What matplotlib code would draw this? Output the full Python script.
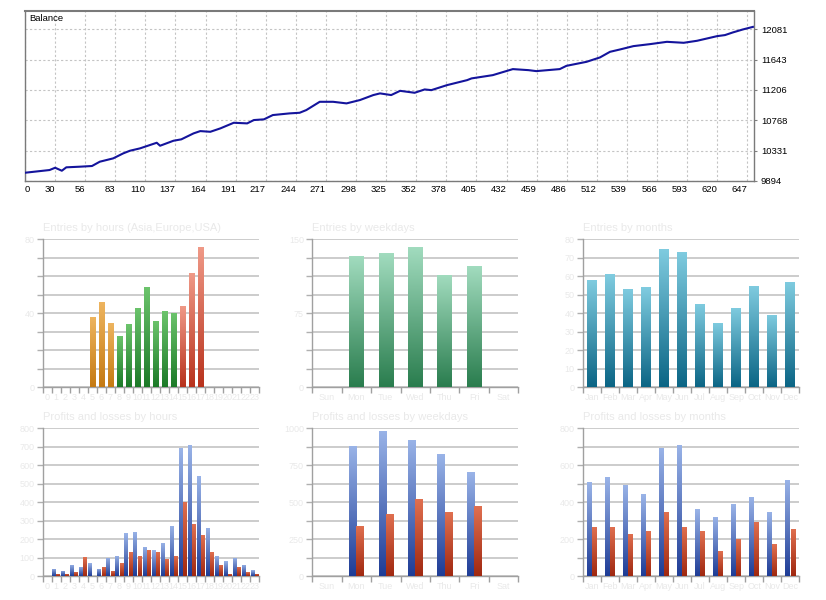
import numpy as np
import matplotlib
matplotlib.use('Agg')
import matplotlib.pyplot as plt
from matplotlib.colors import LinearSegmentedColormap

# ---------------- data ----------------
trade_idx = [0, 22, 27, 33, 37, 49, 60, 67, 79, 88, 94, 103, 118, 121, 133, 140, 151, 157, 166,
             175, 187, 199, 205, 214, 222, 237, 246, 252, 264, 276, 288, 300, 312, 318, 328,
             336, 349, 358, 364, 378, 396, 400, 419, 437, 451, 458, 479, 485, 503, 515, 524,
             533, 545, 560, 575, 590, 602, 620, 627, 634, 643, 652]
balance = [10013, 10052, 10085, 10042, 10091, 10100, 10110, 10172, 10220, 10292, 10330, 10364,
           10445, 10402, 10474, 10494, 10580, 10613, 10603, 10652, 10733, 10724, 10772, 10782,
           10844, 10868, 10877, 10916, 11035, 11035, 11012, 11060, 11132, 11156, 11132,
           11193, 11165, 11213, 11203, 11275, 11347, 11372, 11419, 11506, 11491, 11477, 11506,
           11553, 11611, 11674, 11755, 11789, 11837, 11866, 11899, 11885, 11914, 11981, 11996,
           12034, 12077, 12114]
bal_xtick_labels = ['0', '30', '56', '83', '110', '137', '164', '191', '217', '244', '271', '298',
                    '325', '352', '378', '405', '432', '459', '486', '512', '539', '566', '593',
                    '620', '647']
bal_yticks = [9894, 10331, 10768, 11206, 11643, 12081]

hour_labels = ['0', '1', '2', '3', '4', '5', '6', '7', '8', '9', '10', '11', '12', '13', '14',
               '15', '16', '17', '18', '19', '20', '21', '22', '23']
entries_by_hour = [0, 0, 0, 0, 0, 38, 46, 35, 28, 34, 43, 54, 36, 41, 40, 44, 62, 76, 0, 0, 0, 0, 0, 0]
weekday_labels = ['Sun', 'Mon', 'Tue', 'Wed', 'Thu', 'Fri', 'Sat']
entries_by_weekday = [0, 133, 136, 142, 114, 123, 0]
month_labels = ['Jan', 'Feb', 'Mar', 'Apr', 'May', 'Jun', 'Jul', 'Aug', 'Sep', 'Oct', 'Nov', 'Dec']
entries_by_month = [58, 61, 53, 54, 75, 73, 45, 35, 43, 55, 39, 57]

profit_by_hour = [0, 40, 29, 61, 51, 69, 40, 99, 110, 231, 240, 159, 139, 181, 271, 692, 712,
                  540, 260, 110, 80, 99, 61, 31]
loss_by_hour = [0, 13, 13, 22, 101, 0, 51, 29, 70, 128, 108, 139, 128, 90, 110, 401, 280, 220,
                128, 60, 11, 51, 20, 11]
profit_by_weekday = [0, 883, 982, 921, 824, 702, 0]
loss_by_weekday = [0, 341, 422, 521, 431, 472, 0]
profit_by_month = [507, 535, 495, 442, 695, 710, 361, 320, 388, 428, 347, 520]
loss_by_month = [267, 267, 228, 242, 347, 267, 242, 134, 201, 294, 173, 255]

# ---------------- figure ----------------
W, H = 826, 600
fig = plt.figure(figsize=(W / 100, H / 100), dpi=100)
plt.rcParams['font.family'] = ['Liberation Sans', 'DejaVu Sans']


def px_axes(l, t, r, b):
    return fig.add_axes([l / W, 1 - b / H, (r - l) / W, (b - t) / H])


# ---- balance chart ----
ax = px_axes(25, 11, 754, 181)
ax.plot(trade_idx, balance, color='#14149c', lw=1.5, zorder=3)
ax.set_xlim(0, 653)
ax.set_ylim(9894, 12343)
xt = [k * 647 / 24 for k in range(25)]
ax.set_xticks(xt)
ax.set_xticklabels(bal_xtick_labels, fontsize=6.8)
for i, lab in enumerate(ax.get_xticklabels()):
    lab.set_ha('left' if i == 0 else 'right')
ax.set_yticks(bal_yticks)
ax.set_yticklabels([str(v) for v in bal_yticks], fontsize=6.8)
ax.yaxis.tick_right()
ax.tick_params(axis='x', length=0, pad=3)
ax.tick_params(axis='y', length=2, pad=3, color='#808080')
ax.grid(True, color='#c4c4c4', linestyle=(0, (2, 2)), lw=0.8)
for s in ax.spines.values():
    s.set_color('#7a7a7a')
    s.set_linewidth(1.0)
ax.spines['top'].set_linewidth(1.5)
ax.text(0.006, 0.982, 'Balance', transform=ax.transAxes, fontsize=6.8, va='top', ha='left')

# ---- small panels ----
FAINT = '#e9e9e9'


def gradient_bars(a, xs, hs, width, c_top, c_bot, zorder=3):
    cmap = LinearSegmentedColormap.from_list('g', [c_bot, c_top])
    grad = np.linspace(0, 1, 128).reshape(-1, 1)
    bars = a.bar(xs, hs, width=width, color=c_bot, edgecolor='none', zorder=zorder)
    for rect, h in zip(bars, hs):
        if h <= 0:
            continue
        x0 = rect.get_x()
        im = a.imshow(grad, extent=[x0, x0 + rect.get_width(), 0, h], origin='lower',
                      aspect='auto', cmap=cmap, interpolation='bilinear', zorder=zorder + 0.1)
        im.set_clip_path(rect)


def setup_panel(a, title, labels, ymax, ystep, shown):
    n = len(labels)
    a.set_xlim(-0.5, n - 0.5)
    a.set_ylim(0, ymax)
    a.set_aspect('auto')
    a.set_xticks([k - 0.5 for k in range(n + 1)])
    a.set_xticklabels([])
    a.set_xticks(list(range(n)), minor=True)
    a.set_xticklabels(labels, minor=True, fontsize=6.5, color=FAINT)
    a.tick_params(axis='x', which='major', length=4, color='#a0a0a0', width=1)
    a.tick_params(axis='x', which='minor', length=0, pad=4)
    yt = list(np.arange(0, ymax + ystep / 2, ystep))
    a.set_yticks(yt)
    a.set_yticklabels([f'{int(v)}' if int(v) in shown else '' for v in yt], fontsize=6.5, color=FAINT)
    a.tick_params(axis='y', length=4, color='#b0b0b0', width=1, pad=2)
    a.grid(True, axis='y', color='#c4c4c4', lw=1.2, zorder=0)
    a.set_axisbelow(True)
    for s in ['top', 'right']:
        a.spines[s].set_visible(False)
    for s in ['left', 'bottom']:
        a.spines[s].set_color('#a0a0a0')
        a.spines[s].set_linewidth(1.0)
    a.text(0.0, 1.04, title, transform=a.transAxes, fontsize=8, color=FAINT, ha='left', va='bottom')


row1 = (239.3, 387.3)
row2 = (428.3, 576.0)
cols = [(42.7, 259.3), (312.3, 518.3), (582.7, 799.3)]

# Entries by hours
a1 = px_axes(cols[0][0], row1[0], cols[0][1], row1[1])
hx = np.arange(len(hour_labels))
for i, v in enumerate(entries_by_hour):
    if v <= 0:
        continue
    if i < 8:
        ct, cb = '#eeb560', '#c57a12'
    elif i < 15:
        ct, cb = '#6cc46c', '#1c7a28'
    else:
        ct, cb = '#f09a88', '#b8321c'
    gradient_bars(a1, [hx[i]], [v], 0.6, ct, cb)
setup_panel(a1, 'Entries by hours (Asia,Europe,USA)', hour_labels, 80, 10, [0, 40, 80])

# Entries by weekdays
a2 = px_axes(cols[1][0], row1[0], cols[1][1], row1[1])
gradient_bars(a2, np.arange(len(weekday_labels)), entries_by_weekday, 0.5, '#a2dcbf', '#2a7d4e')
setup_panel(a2, 'Entries by weekdays', weekday_labels, 150, 18.75, [0, 75, 150])

# Entries by months
a3 = px_axes(cols[2][0], row1[0], cols[2][1], row1[1])
gradient_bars(a3, np.arange(len(month_labels)), entries_by_month, 0.55, '#80cce0', '#0b6585')
setup_panel(a3, 'Entries by months', month_labels, 80, 10, list(range(0, 90, 10)))

BLUE_T, BLUE_B = '#9ab4e8', '#1e3c96'
RED_T, RED_B = '#e07050', '#a02810'

# Profits and losses by hours
a4 = px_axes(cols[0][0], row2[0], cols[0][1], row2[1])
gradient_bars(a4, hx - 0.23, profit_by_hour, 0.42, BLUE_T, BLUE_B)
gradient_bars(a4, hx + 0.23, loss_by_hour, 0.42, RED_T, RED_B)
setup_panel(a4, 'Profits and losses by hours', hour_labels, 800, 100, list(range(0, 900, 100)))

# Profits and losses by weekdays
a5 = px_axes(cols[1][0], row2[0], cols[1][1], row2[1])
wx = np.arange(len(weekday_labels))
gradient_bars(a5, wx - 0.125, profit_by_weekday, 0.25, BLUE_T, BLUE_B)
gradient_bars(a5, wx + 0.125, loss_by_weekday, 0.25, RED_T, RED_B)
setup_panel(a5, 'Profits and losses by weekdays', weekday_labels, 1000, 125, [0, 250, 500, 750, 1000])

# Profits and losses by months
a6 = px_axes(cols[2][0], row2[0], cols[2][1], row2[1])
mx = np.arange(len(month_labels))
gradient_bars(a6, mx - 0.15, profit_by_month, 0.27, BLUE_T, BLUE_B)
gradient_bars(a6, mx + 0.15, loss_by_month, 0.27, RED_T, RED_B)
setup_panel(a6, 'Profits and losses by months', month_labels, 800, 100, [0, 200, 400, 600, 800])

fig.savefig('out.png', dpi=100)
